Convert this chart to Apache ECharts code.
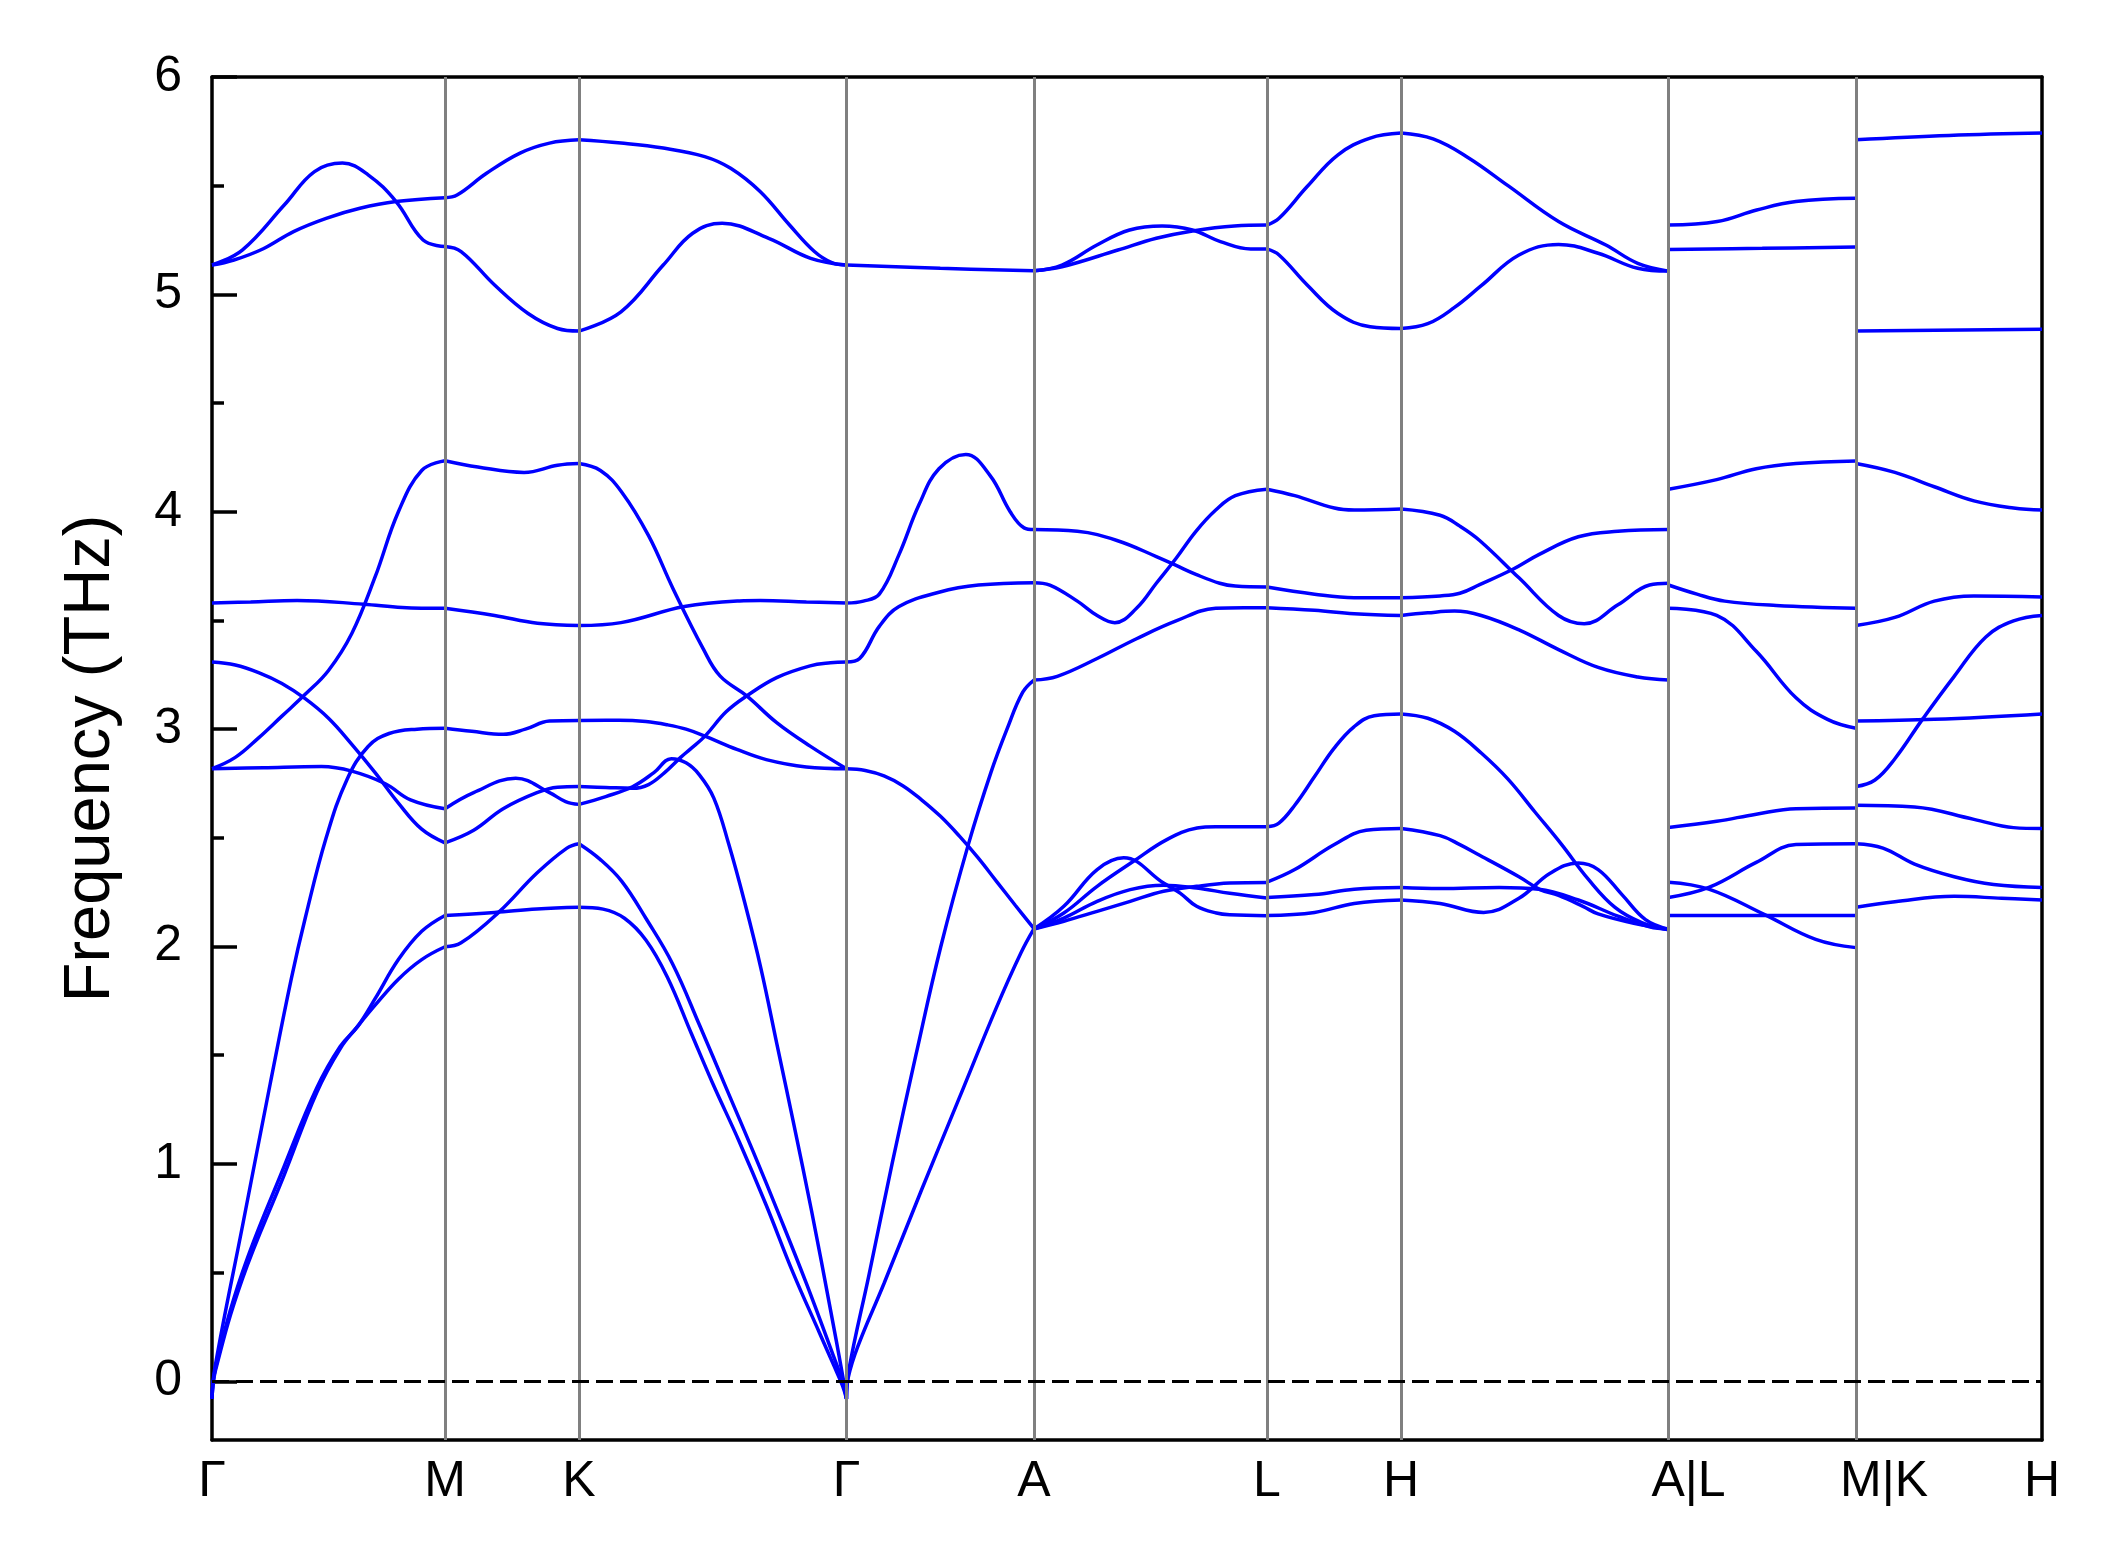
<!DOCTYPE html>
<html>
<head>
<meta charset="utf-8">
<script src="https://cdn.jsdelivr.net/npm/echarts@6/dist/echarts.min.js"></script>
<style>
html,body{margin:0;padding:0;background:#fff;}
#chart{width:2120px;height:1567px;}
</style>
</head>
<body>
<div id="chart"></div>
<script>
// High-symmetry points: labels and cumulative path distance (arbitrary units, Γ-M = 1)
const kLabels = ['Γ','M','K','Γ','A','L','H','A|L','M|K','H'];
const kTicks = [0, 1.0, 1.5751, 2.7232, 3.5279, 4.5279, 5.1030, 6.2511, 7.0558, 7.8541];
const yTickValues = [0, 1, 2, 3, 4, 5, 6];
const yMinorValues = [0.5, 1.5, 2.5, 3.5, 4.5, 5.5];

// Each band: list of [fraction along segment, frequency THz]
const segGM = [
  [[0,5.135],[0.13,5.204],[0.31,5.411],[0.44,5.565],[0.56,5.604],[0.67,5.55],[0.79,5.427],[0.906,5.25],[1,5.22]],
  [[0,5.135],[0.094,5.158],[0.22,5.21],[0.35,5.289],[0.49,5.35],[0.635,5.396],[0.79,5.427],[1,5.445]],
  [[0,3.58],[0.166,3.585],[0.365,3.592],[0.65,3.575],[0.816,3.56],[1,3.556]],
  [[0,2.818],[0.1,2.87],[0.2,2.96],[0.3,3.06],[0.4,3.16],[0.5,3.27],[0.6,3.44],[0.7,3.7],[0.8,4.0],[0.9,4.19],[1,4.235]],
  [[0,3.309],[0.1,3.295],[0.2,3.26],[0.3,3.21],[0.4,3.14],[0.5,3.05],[0.6,2.93],[0.7,2.8],[0.8,2.66],[0.9,2.54],[1,2.477]],
  [[0,2.818],[0.22,2.823],[0.47,2.828],[0.6,2.807],[0.744,2.749],[0.852,2.675],[1,2.634]],
  [[0,-0.08],[0.012,0.06],[0.13,0.71],[0.25,1.37],[0.34,1.85],[0.4,2.13],[0.49,2.5],[0.58,2.77],[0.67,2.92],[0.76,2.98],[0.88,3.0],[1,3.004]],
  [[0,-0.08],[0.015,0.06],[0.13,0.5],[0.31,0.99],[0.45,1.35],[0.55,1.54],[0.626,1.634],[0.7,1.76],[0.8,1.94],[0.9,2.07],[1,2.143]],
  [[0,-0.08],[0.015,0.05],[0.13,0.47],[0.31,0.95],[0.45,1.33],[0.55,1.53],[0.626,1.634],[0.7,1.73],[0.8,1.85],[0.9,1.94],[1,1.999]]
];
const segMK = [
  [[0,5.445],[0.09,5.457],[0.31,5.557],[0.56,5.65],[0.78,5.696],[1,5.711]],
  [[0,5.22],[0.12,5.197],[0.37,5.043],[0.62,4.912],[0.84,4.843],[1,4.831]],
  [[0,4.235],[0.245,4.206],[0.59,4.181],[0.84,4.214],[1,4.222]],
  [[0,3.556],[0.37,3.523],[0.69,3.487],[1,3.477]],
  [[0,3.004],[0.2,2.99],[0.434,2.976],[0.6,3.0],[0.78,3.037],[1,3.04]],
  [[0,2.634],[0.214,2.708],[0.528,2.774],[0.78,2.708],[0.9,2.667],[1,2.654]],
  [[0,2.477],[0.214,2.535],[0.434,2.634],[0.686,2.708],[0.84,2.733],[1,2.736]],
  [[0,2.143],[0.37,2.157],[0.686,2.173],[1,2.181]],
  [[0,1.999],[0.12,2.017],[0.4,2.157],[0.686,2.338],[0.91,2.453],[1,2.473]]
];
const segKG = [
  [[0,5.711],[0.157,5.696],[0.315,5.673],[0.47,5.634],[0.567,5.58],[0.677,5.473],[0.787,5.319],[0.88,5.197],[0.945,5.146],[1,5.135]],
  [[0,4.831],[0.157,4.92],[0.315,5.135],[0.425,5.281],[0.535,5.327],[0.709,5.258],[0.866,5.166],[1,5.135]],
  [[0,4.222],[0.08,4.19],[0.16,4.09],[0.26,3.89],[0.352,3.645],[0.465,3.368],[0.527,3.245],[0.627,3.153],[0.739,3.03],[0.864,2.922],[1,2.818]],
  [[0,3.477],[0.157,3.49],[0.394,3.564],[0.6,3.59],[0.677,3.592],[0.85,3.585],[1,3.58]],
  [[0,3.04],[0.15,3.041],[0.25,3.035],[0.33,3.02],[0.4,3.0],[0.471,2.968],[0.59,2.907],[0.7,2.86],[0.85,2.826],[1,2.818]],
  [[0,2.654],[0.1,2.69],[0.2,2.735],[0.28,2.8],[0.345,2.864],[0.4,2.845],[0.45,2.79],[0.504,2.683],[0.56,2.47],[0.62,2.2],[0.68,1.9],[0.74,1.55],[0.8,1.2],[0.87,0.78],[0.94,0.33],[0.985,0.03],[1,-0.08]],
  [[0,2.736],[0.1,2.732],[0.2,2.728],[0.26,2.745],[0.32,2.8],[0.38,2.87],[0.415,2.907],[0.471,2.968],[0.55,3.08],[0.627,3.153],[0.739,3.237],[0.864,3.291],[0.94,3.305],[1,3.309]],
  [[0,2.181],[0.09,2.172],[0.17,2.13],[0.25,2.03],[0.33,1.86],[0.42,1.6],[0.5,1.37],[0.6,1.1],[0.7,0.81],[0.8,0.5],[0.9,0.22],[0.95,0.08],[0.985,-0.02],[1,-0.08]],
  [[0,2.473],[0.08,2.4],[0.16,2.3],[0.25,2.13],[0.35,1.92],[0.45,1.64],[0.55,1.35],[0.65,1.06],[0.75,0.76],[0.85,0.45],[0.95,0.12],[0.985,0.0],[1,-0.08]]
];
const segGA = [
  [[0,5.135],[0.5,5.12],[1,5.109]],
  [[0,3.58],[0.09,3.589],[0.175,3.621],[0.28,3.803],[0.387,4.033],[0.493,4.198],[0.636,4.264],[0.767,4.165],[0.873,4.0],[0.947,3.926],[1,3.918]],
  [[0,3.309],[0.07,3.325],[0.175,3.473],[0.28,3.564],[0.493,3.63],[0.704,3.663],[1,3.674]],
  [[0,2.818],[0.1,2.81],[0.2,2.785],[0.3,2.74],[0.4,2.675],[0.5,2.6],[0.6,2.51],[0.7,2.41],[0.8,2.3],[0.9,2.19],[1,2.082]],
  [[0,-0.08],[0.012,0.05],[0.12,0.49],[0.243,1.0],[0.37,1.5],[0.503,2.0],[0.65,2.47],[0.77,2.8],[0.856,3.0],[0.94,3.17],[1,3.226]],
  [[0,-0.08],[0.01,0.02],[0.06,0.16],[0.2,0.45],[0.4,0.88],[0.6,1.3],[0.8,1.72],[0.93,1.97],[1,2.082]]
];
const segAL = [
  [[0,5.109],[0.12,5.135],[0.27,5.227],[0.41,5.296],[0.55,5.315],[0.68,5.296],[0.8,5.243],[0.93,5.209],[1,5.209]],
  [[0,5.109],[0.12,5.127],[0.36,5.204],[0.525,5.258],[0.68,5.292],[0.86,5.315],[1,5.319]],
  [[0,3.918],[0.186,3.91],[0.356,3.868],[0.525,3.794],[0.61,3.753],[0.695,3.712],[0.797,3.671],[0.864,3.658],[1,3.654]],
  [[0,3.674],[0.068,3.663],[0.186,3.589],[0.271,3.523],[0.347,3.49],[0.44,3.556],[0.525,3.671],[0.61,3.786],[0.695,3.91],[0.78,4.008],[0.864,4.074],[1,4.104]],
  [[0,3.226],[0.1,3.243],[0.271,3.325],[0.44,3.416],[0.61,3.498],[0.78,3.556],[0.9,3.559],[1,3.559]],
  [[0,2.081],[0.128,2.185],[0.271,2.354],[0.385,2.408],[0.556,2.292],[0.627,2.246],[0.698,2.185],[0.783,2.154],[0.84,2.146],[1,2.142]],
  [[0,2.081],[0.128,2.154],[0.271,2.277],[0.427,2.392],[0.57,2.492],[0.7,2.545],[0.78,2.551],[1,2.551]],
  [[0,2.081],[0.128,2.131],[0.271,2.208],[0.413,2.262],[0.556,2.282],[0.698,2.269],[0.84,2.245],[1,2.223]],
  [[0,2.081],[0.128,2.116],[0.271,2.162],[0.413,2.208],[0.556,2.254],[0.698,2.277],[0.84,2.292],[1,2.295]]
];
const segLH = [
  [[0,5.319],[0.09,5.35],[0.3,5.496],[0.53,5.642],[0.77,5.719],[1,5.742]],
  [[0,5.209],[0.09,5.181],[0.3,5.043],[0.53,4.912],[0.77,4.851],[1,4.843]],
  [[0,4.104],[0.207,4.074],[0.503,4.017],[0.651,4.008],[1,4.013]],
  [[0,3.654],[0.355,3.621],[0.651,3.605],[1,3.605]],
  [[0,3.559],[0.355,3.547],[0.651,3.531],[1,3.523]],
  [[0,2.551],[0.089,2.568],[0.207,2.65],[0.355,2.782],[0.503,2.914],[0.651,3.012],[0.8,3.062],[1,3.07]],
  [[0,2.296],[0.207,2.354],[0.503,2.469],[0.74,2.535],[1,2.543]],
  [[0,2.226],[0.355,2.239],[0.651,2.264],[1,2.272]],
  [[0,2.143],[0.355,2.157],[0.651,2.198],[1,2.214]]
];
const segHA = [
  [[0,5.742],[0.12,5.715],[0.25,5.63],[0.4,5.5],[0.589,5.335],[0.766,5.227],[0.885,5.143],[1,5.107]],
  [[0,4.843],[0.1,4.865],[0.2,4.94],[0.3,5.04],[0.441,5.181],[0.589,5.23],[0.737,5.189],[0.885,5.12],[1,5.107]],
  [[0,4.013],[0.146,3.984],[0.22,3.934],[0.294,3.868],[0.441,3.696],[0.589,3.523],[0.685,3.485],[0.811,3.572],[0.929,3.663],[1,3.671]],
  [[0,3.605],[0.146,3.613],[0.22,3.625],[0.294,3.665],[0.42,3.737],[0.515,3.803],[0.663,3.885],[0.811,3.91],[1,3.918]],
  [[0,3.523],[0.1,3.535],[0.2,3.543],[0.3,3.523],[0.441,3.457],[0.589,3.366],[0.737,3.284],[0.885,3.24],[1,3.226]],
  [[0,3.07],[0.1,3.05],[0.2,2.99],[0.3,2.89],[0.4,2.77],[0.5,2.62],[0.6,2.47],[0.7,2.31],[0.8,2.18],[0.9,2.11],[1,2.077]],
  [[0,2.543],[0.146,2.51],[0.22,2.469],[0.294,2.42],[0.441,2.321],[0.52,2.262],[0.589,2.235],[0.68,2.185],[0.737,2.15],[0.87,2.107],[1,2.08]],
  [[0,2.272],[0.146,2.267],[0.367,2.272],[0.515,2.264],[0.663,2.214],[0.811,2.14],[0.929,2.091],[1,2.08]],
  [[0,2.214],[0.146,2.198],[0.309,2.157],[0.441,2.222],[0.559,2.338],[0.663,2.384],[0.737,2.354],[0.826,2.239],[0.914,2.124],[1,2.08]]
];
const segLM = [
  [[0,5.319],[0.26,5.335],[0.47,5.388],[0.68,5.427],[1,5.442]],
  [[0,5.207],[0.5,5.212],[1,5.218]],
  [[0,4.104],[0.257,4.148],[0.468,4.198],[0.68,4.222],[1,4.234]],
  [[0,3.663],[0.152,3.621],[0.3,3.589],[0.574,3.569],[1,3.556]],
  [[0,3.556],[0.257,3.523],[0.468,3.358],[0.68,3.144],[0.848,3.045],[1,3.004]],
  [[0,2.548],[0.257,2.576],[0.468,2.609],[0.68,2.634],[1,2.637]],
  [[0,2.296],[0.215,2.264],[0.51,2.148],[0.785,2.033],[1,1.995]],
  [[0,2.226],[0.215,2.272],[0.468,2.387],[0.68,2.469],[1,2.473]],
  [[0,2.143],[1,2.143]]
];
const segKH = [
  [[0,5.711],[0.5,5.731],[1,5.742]],
  [[0,4.831],[1,4.84]],
  [[0,4.222],[0.209,4.181],[0.421,4.115],[0.634,4.05],[0.847,4.017],[1,4.008]],
  [[0,3.477],[0.209,3.514],[0.421,3.589],[0.634,3.613],[1,3.608]],
  [[0,2.736],[0.102,2.766],[0.209,2.864],[0.357,3.045],[0.528,3.243],[0.698,3.424],[0.847,3.498],[1,3.523]],
  [[0,3.037],[0.421,3.045],[1,3.07]],
  [[0,2.65],[0.315,2.642],[0.634,2.585],[0.847,2.547],[1,2.543]],
  [[0,2.473],[0.145,2.453],[0.315,2.379],[0.528,2.321],[0.74,2.285],[1,2.272]],
  [[0,2.181],[0.209,2.206],[0.528,2.231],[0.783,2.222],[1,2.214]]
];

const segments = [segGM, segMK, segKG, segGA, segAL, segLH, segHA, segLM, segKH];
const yMin = -0.27, yMax = 6;
const FONT = "'Liberation Sans', Arial, Helvetica, sans-serif";

const series = [];
segments.forEach((bands, i) => {
  const k0 = kTicks[i], k1 = kTicks[i + 1];
  bands.forEach(b => {
    series.push({
      type: 'line',
      xAxisIndex: 0, yAxisIndex: 0,
      data: b.map(p => [k0 + p[0] * (k1 - k0), p[1]]),
      smooth: 0.4,
      showSymbol: false,
      symbol: 'none',
      silent: true,
      z: 4,
      lineStyle: { color: '#0000ff', width: 3.5 }
    });
  });
});

// vertical high-symmetry lines and the zero line
const vLines = kTicks.slice(1, -1).map(k => [
  { coord: [k, yMin], lineStyle: { color: '#808080', width: 3, type: 'solid' } },
  { coord: [k, yMax] }
]);
series.push({
  type: 'line',
  data: [],
  z: 2,
  silent: true,
  markLine: {
    silent: true,
    symbol: ['none', 'none'],
    animation: false,
    label: { show: false },
    data: vLines.concat([
      { yAxis: 0, lineStyle: { color: '#000', width: 3, type: [17, 7] } }
    ])
  }
});

const labelIndex = v => {
  for (let i = 0; i < kTicks.length; i++) if (Math.abs(kTicks[i] - v) < 1e-6) return i;
  return -1;
};

const frameLine = { show: true, onZero: false, lineStyle: { color: '#000', width: 3.5 } };

const option = {
  animation: false,
  backgroundColor: '#ffffff',
  grid: { left: 212, right: 78, top: 77, bottom: 127, containLabel: false },
  xAxis: [
    {
      type: 'value', position: 'bottom', min: 0, max: kTicks[kTicks.length - 1],
      axisLine: frameLine,
      axisTick: { show: false },
      splitLine: { show: false },
      axisLabel: {
        show: true,
        customValues: kTicks,
        hideOverlap: false,
        showMinLabel: true, showMaxLabel: true,
        margin: 17,
        color: '#000', fontSize: 50, fontFamily: FONT,
        formatter: v => {
          const i = labelIndex(v);
          if (i < 0) return '';
          const s = kLabels[i];
          if (s === 'A|L') return '{al|' + s + '}';
          if (s === 'M|K') return '{mk|' + s + '}';
          return s;
        },
        rich: {
          al: { fontSize: 50, fontFamily: FONT, color: '#000', padding: [0, 0, 0, 40] },
          mk: { fontSize: 50, fontFamily: FONT, color: '#000', padding: [0, 0, 0, 56] }
        }
      }
    },
    {
      type: 'value', position: 'top', min: 0, max: kTicks[kTicks.length - 1],
      axisLine: frameLine,
      axisTick: { show: false }, axisLabel: { show: false }, splitLine: { show: false }
    }
  ],
  yAxis: [
    {
      type: 'value', position: 'left', min: yMin, max: yMax,
      name: 'Frequency (THz)', nameLocation: 'middle', nameRotate: 90, nameGap: 88,
      nameTextStyle: { fontSize: 65, fontFamily: FONT, color: '#000' },
      axisLine: frameLine,
      axisTick: { show: true, inside: true, length: 25, customValues: yTickValues, lineStyle: { color: '#000', width: 3.5 } },
      axisLabel: { show: true, customValues: yTickValues, margin: 30, fontSize: 50, fontFamily: FONT, color: '#000' },
      splitLine: { show: false }
    },
    {
      type: 'value', position: 'left', min: yMin, max: yMax,
      axisLine: { show: false, onZero: false },
      axisTick: { show: true, inside: true, length: 12, customValues: yMinorValues, lineStyle: { color: '#000', width: 3.5 } },
      axisLabel: { show: false },
      splitLine: { show: false }
    },
    {
      type: 'value', position: 'right', min: yMin, max: yMax,
      axisLine: frameLine,
      axisTick: { show: false }, axisLabel: { show: false }, splitLine: { show: false }
    }
  ],
  series: series
};

const chart = echarts.init(document.getElementById('chart'), null, { renderer: 'canvas' });
chart.setOption(option);
</script>
</body>
</html>
